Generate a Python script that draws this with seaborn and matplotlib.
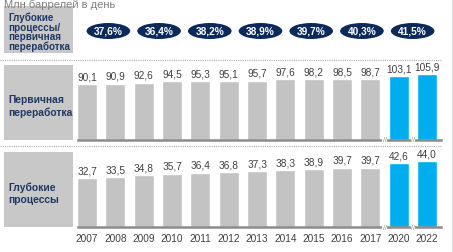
import matplotlib
matplotlib.use("Agg")
import matplotlib.pyplot as plt
import seaborn as sns
import pandas as pd
from matplotlib.patches import Ellipse
from matplotlib.lines import Line2D

# Daten
years = ["2007", "2008", "2009", "2010", "2011", "2012", "2013", "2014",
         "2015", "2016", "2017", "2020", "2022"]
primary = [90.1, 90.9, 92.6, 94.5, 95.3, 95.1, 95.7, 97.6, 98.2, 98.5, 98.7, 103.1, 105.9]
deep = [32.7, 33.5, 34.8, 35.7, 36.4, 36.8, 37.3, 38.3, 38.9, 39.7, 39.7, 42.6, 44.0]
ratios = ["37,6%", "36,4%", "38,2%", "38,9%", "39,7%", "40,3%", "41,5%"]
forecast_years = ["2020", "2022"]

title = "Млн баррелей в день"
label_ratio = "Глубокие\nпроцессы/\nпервичная\nпереработка"
label_primary = "Первичная\nпереработка"
label_deep = "Глубокие\nпроцессы"

# Farben
grey_bar = "#c3c3c3"
blue_bar = "#00aeef"
navy = "#0b2a5b"
text_col = "#404040"
box_col = "#c8c8c8"

sns.set_theme(style="white")
plt.rcParams["font.family"] = ["Liberation Sans", "DejaVu Sans"]

W, H = 453, 253
fig = plt.figure(figsize=(W / 100, H / 100), dpi=100)


def px_axes(x0, y0, x1, y1):
    # Pixelkoordinaten (oben links = 0,0) -> Figure-Koordinaten
    return fig.add_axes([x0 / W, 1 - y1 / H, (x1 - x0) / W, (y1 - y0) / H])


palette = {y: (blue_bar if y in forecast_years else grey_bar) for y in years}


def draw_panel(ax, values, ymax, show_years):
    df = pd.DataFrame({"year": years, "value": values})
    sns.barplot(data=df, x="year", y="value", hue="year", palette=palette,
                legend=False, width=0.706, ax=ax, saturation=1)
    for c in ax.containers:
        ax.bar_label(c, labels=[f"{v:.1f}".replace(".", ",") for v in c.datavalues],
                     padding=2, fontsize=7.3, color=text_col)
    ax.set_xlim(-0.318, 12.49)
    ax.set_ylim(0, ymax)
    ax.set_xlabel("")
    ax.set_ylabel("")
    ax.set_yticks([])
    for s in ["top", "left", "right"]:
        ax.spines[s].set_visible(False)
    ax.spines["bottom"].set_color("#8c8c8c")
    ax.spines["bottom"].set_linewidth(1.8)
    ax.patch.set_alpha(0)
    if show_years:
        ax.tick_params(axis="x", length=0, pad=4, labelsize=7.3, labelcolor=text_col)
    else:
        ax.set_xticks([])
    # Achsenbruch-Markierungen
    for xb in [10.5, 11.5]:
        ax.text(xb, 0, "//", fontsize=5, color="#8c8c8c", ha="center", va="center",
                bbox=dict(facecolor="white", edgecolor="none", pad=0.3))


ax1 = px_axes(78, 66, 441, 141)
draw_panel(ax1, primary, 75 / 0.62, False)

ax2 = px_axes(78, 153, 441, 228.3)
draw_panel(ax2, deep, 75.3 / 1.5, True)

# Verhaeltnis-Ellipsen
ax0 = px_axes(83, 22, 438, 42)
ax0.set_xlim(-0.5, len(ratios) - 0.5)
ax0.set_ylim(-1, 1)
ax0.axis("off")
for i, r in enumerate(ratios):
    ax0.add_patch(Ellipse((i, 0), 0.86, 1.6, facecolor=navy, edgecolor="none"))
    ax0.text(i, 0, r, color="white", fontsize=7.3, fontweight="bold",
             ha="center", va="center")

# Beschriftungsboxen links
for (y0, y1, txt, fs, ls) in [(7, 54, label_ratio, 7.1, 0.95),
                              (66, 141, label_primary, 7.4, 1.25),
                              (153, 228, label_deep, 7.4, 1.25)]:
    bx = px_axes(4, y0, 73, y1)
    bx.set_facecolor(box_col)
    bx.set_xticks([])
    bx.set_yticks([])
    for s in bx.spines.values():
        s.set_visible(False)
    bx.text(0.06, 0.46, txt, transform=bx.transAxes, fontsize=fs,
            fontweight="bold", color="#1f3864", va="center", ha="left",
            linespacing=ls)

# Gepunktete Trennlinien
for yy in [61, 147]:
    fig.add_artist(Line2D([0, 441 / W], [1 - yy / H, 1 - yy / H], color="#b0b0b0",
                          linewidth=0.8, linestyle=(0, (1, 1))))

# Rechte Rahmenlinie
fig.add_artist(Line2D([451.5 / W, 451.5 / W], [0, 1], color="#e0e0e0", linewidth=1))

# Titel (oben abgeschnitten)
fig.text(4 / W, 1 - 7.5 / H, title, fontsize=8, color="#7f7f7f", ha="left", va="baseline")

plt.savefig("out.png", dpi=100)
plt.close()
